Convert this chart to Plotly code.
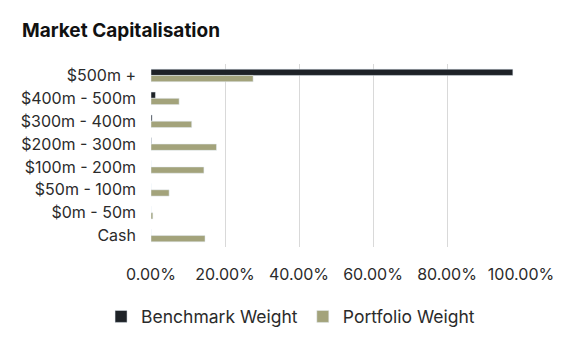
import plotly.graph_objects as go

categories = ["$500m +", "$400m - 500m", "$300m - 400m", "$200m - 300m",
              "$100m - 200m", "$50m - 100m", "$0m - 50m", "Cash"]
benchmark = [0.978, 0.012, 0.003, 0.001, 0.0, 0.0, 0.0, 0.0]
portfolio = [0.276, 0.076, 0.110, 0.177, 0.143, 0.049, 0.005, 0.146]
x_ticks = [0, 0.2, 0.4, 0.6, 0.8, 1.0]
x_tick_labels = ["0.00%", "20.00%", "40.00%", "60.00%", "80.00%", "100.00%"]

font_family = "Inter, Lato, sans-serif"
text_color = "#2b2b2b"

fig = go.Figure()
fig.add_trace(go.Bar(y=categories, x=benchmark, orientation="h",
                     name="Benchmark Weight", marker_color="#1e2227"))
fig.add_trace(go.Bar(y=categories, x=portfolio, orientation="h",
                     name="Portfolio Weight", marker_color="#a3a37b"))

fig.update_layout(
    width=577, height=348,
    paper_bgcolor="white", plot_bgcolor="white",
    margin=dict(l=151, r=56, t=64, b=101, autoexpand=False),
    barmode="group", bargap=0.45, bargroupgap=0,
    font=dict(family=font_family, size=16, color=text_color),
    title=dict(text="<b>Market Capitalisation</b>", x=22/577, xanchor="left",
               y=1 - 30/348, yanchor="middle",
               font=dict(family=font_family, size=19, color="#111111")),
    legend=dict(orientation="h", x=-0.135, xanchor="left",
                y=-0.38, yanchor="middle",
                font=dict(size=17.5, color=text_color),
                itemwidth=30, traceorder="normal"),
    showlegend=True,
)
fig.update_xaxes(range=[0, 1.0], tickvals=x_ticks, ticktext=x_tick_labels,
                 showgrid=True, gridcolor="#d9d9d9", gridwidth=1,
                 zeroline=False, showline=False, ticks="",
                 ticklabelstandoff=16,
                 tickfont=dict(size=16, color=text_color))
fig.update_yaxes(autorange="reversed", showgrid=False, showline=False,
                 ticks="", ticklabelstandoff=14,
                 tickfont=dict(size=16, color=text_color))

fig.write_html("out.html")
